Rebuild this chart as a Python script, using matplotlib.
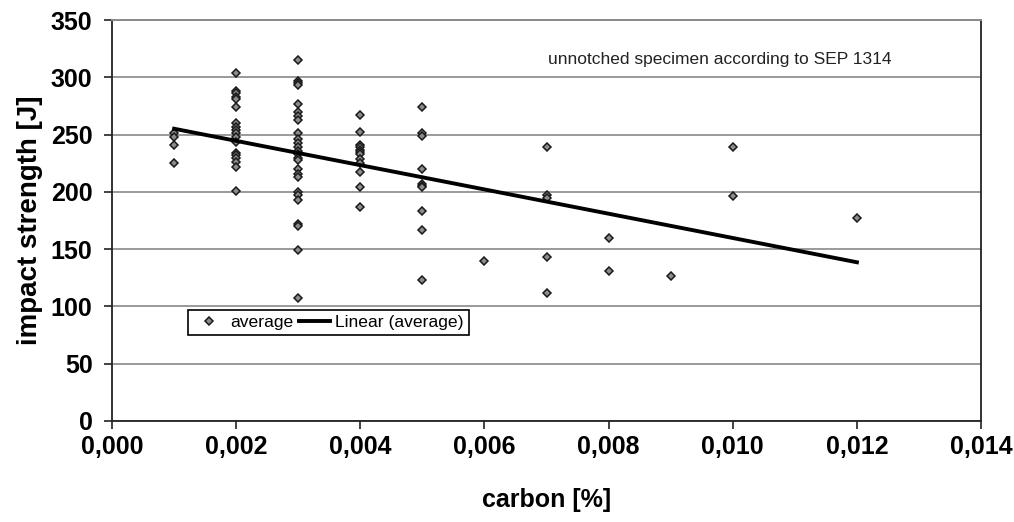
import numpy as np
import matplotlib.pyplot as plt
from matplotlib.ticker import FuncFormatter, MultipleLocator

plt.rcParams['font.family'] = ['Liberation Sans', 'DejaVu Sans']

# impact strength [J] of the single specimens, grouped by carbon content [%]
carbon_levels = [0.001, 0.002, 0.003, 0.004, 0.005, 0.006, 0.007, 0.008, 0.009, 0.010, 0.012]
impact_groups = [
    [251, 248, 241, 225],
    [304, 288, 286, 283, 281, 274, 260, 257, 254, 251, 248, 244, 234, 232, 230, 226, 222, 201],
    [315, 297, 295, 293, 277, 270, 266, 263, 251, 246, 243, 239, 236, 233, 230, 228, 220, 216,
     213, 200, 197, 193, 172, 170, 149, 107],
    [267, 252, 241, 239, 237, 235, 233, 229, 225, 217, 204, 187],
    [274, 251, 249, 220, 207, 205, 204, 183, 167, 123],
    [140],
    [239, 197, 195, 143, 112],
    [160, 131],
    [127],
    [239, 196],
    [177],
]

carbon = np.concatenate([[c] * len(g) for c, g in zip(carbon_levels, impact_groups)])
impact = np.concatenate([np.array(g, dtype=float) for g in impact_groups])

fig = plt.figure(figsize=(10.14, 5.22), dpi=100)
ax = fig.add_axes([0.1105, 0.1935, 0.857, 0.768])

# linear trend through all points
k, b = np.polyfit(carbon, impact, 1)
x_fit = np.array([carbon.min(), carbon.max()])

ax.plot(carbon, impact, linestyle='none', marker='D', markersize=4.5,
        markerfacecolor='#8c8c8c', markeredgecolor='#1a1a1a', markeredgewidth=1.1,
        label='average', zorder=3)
ax.plot(x_fit, k * x_fit + b, color='black', linewidth=2.8, label='Linear (average)', zorder=4)

ax.set_xlim(0, 0.014)
ax.set_ylim(0, 350)
ax.xaxis.set_major_locator(MultipleLocator(0.002))
ax.yaxis.set_major_locator(MultipleLocator(50))
ax.xaxis.set_major_formatter(FuncFormatter(lambda v, p: f'{v:.3f}'.replace('.', ',')))

ax.grid(True, axis='y', color='#9a9a9a', linewidth=1.4)
ax.set_axisbelow(True)
for side in ['left', 'bottom', 'right']:
    ax.spines[side].set_color('#222222')
    ax.spines[side].set_linewidth(1.3)
ax.spines['top'].set_color('#8a8a8a')
ax.spines['top'].set_linewidth(1.4)

ax.tick_params(axis='both', direction='out', length=6, width=1.2, color='#222222',
               labelsize=18)
ax.tick_params(axis='x', pad=4)
ax.tick_params(axis='y', pad=8)
for lbl in ax.get_xticklabels() + ax.get_yticklabels():
    lbl.set_fontweight('bold')

ax.set_xlabel('carbon [%]', fontsize=18, fontweight='bold', labelpad=21)
ax.set_ylabel('impact strength [J]', fontsize=20, fontweight='bold', labelpad=6)

ax.text(0.00702, 316, 'unnotched specimen according to SEP 1314',
        fontsize=12.5, color='#222222', va='center', ha='left')

leg = ax.legend(loc='upper left', bbox_to_anchor=(0.0875, 0.278), ncol=2, fontsize=12.6,
                frameon=True, fancybox=False, framealpha=1, edgecolor='black',
                handlelength=1.8, handletextpad=0.3, columnspacing=0.3, borderpad=0.3,
                borderaxespad=0)
leg.get_frame().set_linewidth(1.2)

plt.savefig('out.png', dpi=100)
plt.close()
